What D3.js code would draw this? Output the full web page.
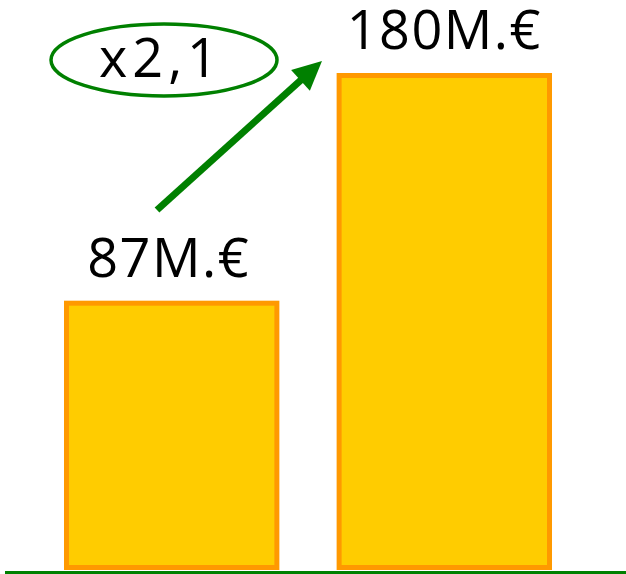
<!DOCTYPE html>
<html>
<head>
<meta charset="utf-8">
<script src="https://cdn.jsdelivr.net/npm/d3@7"></script>
<style>
  html, body { margin: 0; padding: 0; background: #fff; }
  svg { display: block; }
</style>
</head>
<body>
<div id="chart"></div>
<script>
// data
var categories = ["avant", "apres"];
var values = [87, 180];
var labels = ["87M.€", "180M.€"];
var ratioLabel = "x2,1";

var svgWidth = 626;
var svgHeight = 574;
var green = "#008000";
var font = "'Open Sans', sans-serif";

var svg = d3.select("#chart")
    .append("svg")
    .attr("width", svgWidth)
    .attr("height", svgHeight);

// scales
var xScale = d3.scaleBand()
    .domain(categories)
    .range([64, 552])
    .paddingInner(0.21)
    .paddingOuter(0);

var yScale = d3.scaleLinear()
    .domain([-23, 180])
    .range([570, 73]);

var strokeW = 5;

// bars
svg.selectAll("rect.bar")
    .data(values)
    .enter()
    .append("rect")
    .attr("class", "bar")
    .attr("x", (d, i) => xScale(categories[i]) + strokeW / 2)
    .attr("y", d => yScale(d) + strokeW / 2)
    .attr("width", xScale.bandwidth() - strokeW)
    .attr("height", d => yScale(-23) - yScale(d) - strokeW)
    .attr("fill", "#ffcc00")
    .attr("stroke", "#ff9900")
    .attr("stroke-width", strokeW);

// value labels
svg.selectAll("text.val")
    .data(values)
    .enter()
    .append("text")
    .attr("class", "val")
    .attr("x", (d, i) => xScale(categories[i]) + xScale.bandwidth() / 2 - (i == 0 ? 3 : 0))
    .attr("y", d => yScale(d) - 24)
    .attr("text-anchor", "middle")
    .attr("font-family", font)
    .attr("font-size", 54)
    .attr("letter-spacing", 1.5)
    .attr("fill", "#000")
    .text((d, i) => labels[i]);

// baseline
svg.append("line")
    .attr("x1", 5)
    .attr("x2", svgWidth)
    .attr("y1", 572.5)
    .attr("y2", 572.5)
    .attr("stroke", green)
    .attr("stroke-width", 3);

// arrow from first label up to second bar
var tail = [157, 210], tip = [322, 61];
var ang = Math.atan2(tip[1] - tail[1], tip[0] - tail[0]);
var headLen = 29, headHalf = 14;
var base = [tip[0] - headLen * Math.cos(ang), tip[1] - headLen * Math.sin(ang)];

svg.append("line")
    .attr("x1", tail[0])
    .attr("y1", tail[1])
    .attr("x2", base[0] + 2 * Math.cos(ang))
    .attr("y2", base[1] + 2 * Math.sin(ang))
    .attr("stroke", green)
    .attr("stroke-width", 7);

svg.append("path")
    .attr("d", d3.line()([
        tip,
        [base[0] + headHalf * Math.sin(ang), base[1] - headHalf * Math.cos(ang)],
        [base[0] - headHalf * Math.sin(ang), base[1] + headHalf * Math.cos(ang)]
    ]) + "Z")
    .attr("fill", green);

// ratio bubble
svg.append("ellipse")
    .attr("cx", 164)
    .attr("cy", 60)
    .attr("rx", 113)
    .attr("ry", 36)
    .attr("fill", "none")
    .attr("stroke", green)
    .attr("stroke-width", 3.5);

svg.append("text")
    .attr("x", 161)
    .attr("y", 77)
    .attr("text-anchor", "middle")
    .attr("font-family", font)
    .attr("font-size", 54)
    .attr("letter-spacing", 5)
    .attr("fill", "#000")
    .text(ratioLabel);
</script>
</body>
</html>
